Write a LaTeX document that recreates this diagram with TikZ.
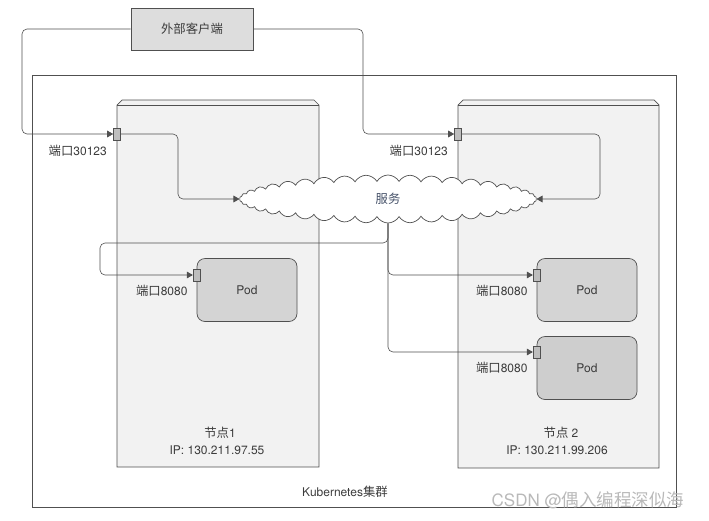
\documentclass[tikz,border=0pt]{standalone}
\usepackage{fontspec}
\setmainfont{TeX Gyre Heros}
\newfontfamily\cjk[Scale=1.03]{Noto Sans CJK SC}
\usepackage{tikz}
\usetikzlibrary{arrows,shapes,positioning}
\definecolor{linegray}{RGB}{80,80,80}
\definecolor{boxgray}{RGB}{242,242,242}
\definecolor{podgray}{RGB}{212,212,212}
\definecolor{portgray}{RGB}{190,190,190}
\definecolor{textgray}{RGB}{60,60,60}
\definecolor{svcblue}{RGB}{70,82,105}

\begin{document}
\begin{tikzpicture}[x=1pt,y=-1pt,font=\fontsize{12}{14}\selectfont,line width=0.7pt,
    port/.style={draw=linegray,fill=portgray,minimum width=7pt,minimum height=12pt,inner sep=0pt},
    pod/.style={draw=linegray,fill=podgray,rounded corners=8pt,minimum width=100pt,minimum height=63pt,text=textgray},
    lbl/.style={inner sep=0pt,text=textgray}]
  \useasboundingbox (0,0) rectangle (709,520);
  %draw cluster and machines
    \draw[linegray] (32,75) rectangle (676,507);
    \node[lbl] (cluster) at (345,492) {Kubernetes{\cjk 集群}};
    \draw[linegray,fill=boxgray] (117,467) -- (117,105) -- (122,100) -- (314,100) -- (319,105) -- (319,467) -- cycle;
    \draw[linegray] (117,105) -- (319,105);
    \draw[linegray,fill=boxgray] (458,468) -- (458,105) -- (463,100) -- (654,100) -- (659,105) -- (659,468) -- cycle;
    \draw[linegray] (458,105) -- (659,105);
    \node[lbl] (n1name) at (220,433) {{\cjk 节点}1};
    \node[lbl] (n1ip) at (217,450) {IP: 130.211.97.55};
    \node[lbl] (n2name) at (561,433) {{\cjk 节点} 2};
    \node[lbl] (n2ip) at (557,450) {IP: 130.211.99.206};
  %client, service and pods
    \node[draw=linegray,fill=podgray!80,minimum width=122pt,minimum height=42pt,text=textgray] (client) at (192,29) {\cjk 外部客户端};
    \node[cloud,draw=linegray,fill=white,cloud puffs=42,cloud puff arc=120,aspect=6,
          minimum width=297pt,minimum height=48pt,inner sep=0pt,text=svcblue] (svc) at (388,199) {\cjk 服务};
    \node[pod] (pod1) at (247,290) {Pod};
    \node[pod] (pod2) at (587,290) {Pod};
    \node[pod,fill=podgray!97!black] (pod3) at (587,368) {Pod};
  %ports
    \node[port] (q1) at (117,134) {};
    \node[port] (q2) at (458,134) {};
    \node[port] (pt1) at ([yshift=15pt]pod1.west) {};
    \node[port] (pt2) at ([yshift=15pt]pod2.west) {};
    \node[port] (pt3) at ([yshift=16pt]pod3.west) {};
    \node[lbl,below left=4pt and 6pt of q1.south west,anchor=north east] (q1lbl) {{\cjk 端口}30123};
    \node[lbl,below left=4pt and 6pt of q2.south west,anchor=north east] (q2lbl) {{\cjk 端口}30123};
    \node[lbl,below left=3pt and 5pt of pt1.south west,anchor=north east] (pt1lbl) {{\cjk 端口}8080};
    \node[lbl,below left=3pt and 5pt of pt2.south west,anchor=north east] (pt2lbl) {{\cjk 端口}8080};
    \node[lbl,below left=3pt and 5pt of pt3.south west,anchor=north east] (pt3lbl) {{\cjk 端口}8080};
  %bends of the connectors
    \coordinate (c1) at (22,80);
    \coordinate (c2) at (178,170);
    \coordinate (c3) at (100,243);
    \coordinate (c4) at (600,170);
    \coordinate (c5) at (363,80);
  %draw directed edges
    \begin{scope}[every path/.style={draw=linegray,line width=0.6pt,rounded corners=5pt,-triangle 60}]
       \draw (client.west) -| (c1) |- (q1.west);
       \draw (client.east) -| (c5) |- (q2.west);
       \draw (q1.east) -| (c2) |- (svc.west);
       \draw (q2.east) -| (c4) |- (svc.east);
       \draw (svc.south) |- (c3) |- (pt1.west);
       \draw (svc.south) |- (pt2.west);
       \draw (svc.south) |- (pt3.west);
    \end{scope}
  %watermark
    \node[text=gray!55,font=\fontsize{17}{19}\selectfont] (mark) at (588,500) {CSDN @{\cjk 偶入编程深似海}};
\end{tikzpicture}
\end{document}
